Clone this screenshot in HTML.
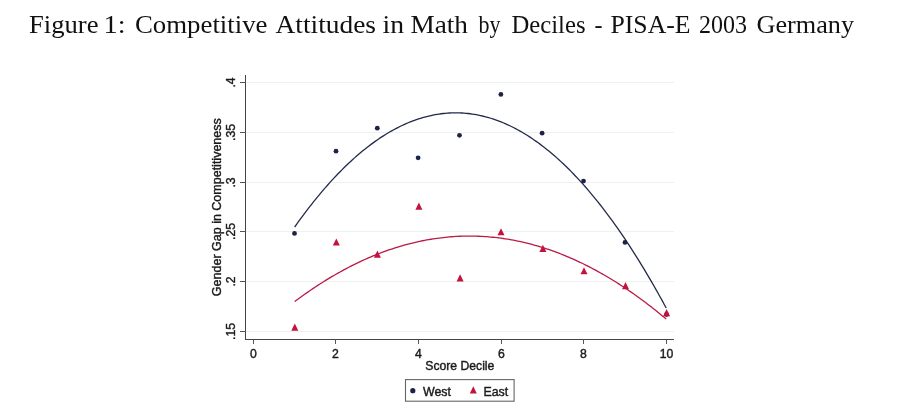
<!DOCTYPE html>
<html><head><meta charset="utf-8"><style>
html,body{margin:0;padding:0;background:#fff;}
body{width:905px;height:410px;position:relative;overflow:hidden;}
.cap{font-family:"Liberation Serif",serif;font-size:25px;fill:#111;}
svg{position:absolute;left:0;top:0;will-change:transform;}
.t{font-family:"Liberation Sans",sans-serif;font-size:12.2px;fill:#1a1a1a;stroke:#1a1a1a;stroke-width:0.4px;}
</style></head><body>
<svg width="905" height="410" viewBox="0 0 905 410">
<text x="29.00" y="32.6" class="cap" textLength="69.50" lengthAdjust="spacingAndGlyphs">Figure</text>
<text x="103.50" y="32.6" class="cap" textLength="22.00" lengthAdjust="spacingAndGlyphs">1:</text>
<text x="135.00" y="32.6" class="cap" textLength="132.50" lengthAdjust="spacingAndGlyphs">Competitive</text>
<text x="275.50" y="32.6" class="cap" textLength="100.50" lengthAdjust="spacingAndGlyphs">Attitudes</text>
<text x="382.50" y="32.6" class="cap" textLength="21.50" lengthAdjust="spacingAndGlyphs">in</text>
<text x="410.50" y="32.6" class="cap" textLength="57.50" lengthAdjust="spacingAndGlyphs">Math</text>
<text x="478.50" y="32.6" class="cap" textLength="22.00" lengthAdjust="spacingAndGlyphs">by</text>
<text x="511.50" y="32.6" class="cap" textLength="74.00" lengthAdjust="spacingAndGlyphs">Deciles</text>
<text x="594.50" y="32.6" class="cap" textLength="8.00" lengthAdjust="spacingAndGlyphs">-</text>
<text x="610.50" y="32.6" class="cap" textLength="80.00" lengthAdjust="spacingAndGlyphs">PISA-E</text>
<text x="699.00" y="32.6" class="cap" textLength="48.00" lengthAdjust="spacingAndGlyphs">2003</text>
<text x="756.50" y="32.6" class="cap" textLength="97.50" lengthAdjust="spacingAndGlyphs">Germany</text>
<line x1="246" y1="331.50" x2="674" y2="331.50" stroke="#edf1f1" stroke-width="1"/>
<line x1="246" y1="281.50" x2="674" y2="281.50" stroke="#edf1f1" stroke-width="1"/>
<line x1="246" y1="231.50" x2="674" y2="231.50" stroke="#edf1f1" stroke-width="1"/>
<line x1="246" y1="182.50" x2="674" y2="182.50" stroke="#edf1f1" stroke-width="1"/>
<line x1="246" y1="132.50" x2="674" y2="132.50" stroke="#edf1f1" stroke-width="1"/>
<line x1="246" y1="82.50" x2="674" y2="82.50" stroke="#edf1f1" stroke-width="1"/>

<line x1="245.5" y1="75" x2="245.5" y2="340" stroke="#444" stroke-width="1"/>
<line x1="245" y1="339.5" x2="674" y2="339.5" stroke="#444" stroke-width="1"/>
<line x1="240" y1="331.50" x2="245.5" y2="331.50" stroke="#555" stroke-width="1"/>
<text x="235" y="331.50" transform="rotate(-90 235 331.50)" text-anchor="middle" class="t">.15</text>
<line x1="240" y1="281.50" x2="245.5" y2="281.50" stroke="#555" stroke-width="1"/>
<text x="235" y="281.50" transform="rotate(-90 235 281.50)" text-anchor="middle" class="t">.2</text>
<line x1="240" y1="231.50" x2="245.5" y2="231.50" stroke="#555" stroke-width="1"/>
<text x="235" y="231.50" transform="rotate(-90 235 231.50)" text-anchor="middle" class="t">.25</text>
<line x1="240" y1="182.50" x2="245.5" y2="182.50" stroke="#555" stroke-width="1"/>
<text x="235" y="182.50" transform="rotate(-90 235 182.50)" text-anchor="middle" class="t">.3</text>
<line x1="240" y1="132.50" x2="245.5" y2="132.50" stroke="#555" stroke-width="1"/>
<text x="235" y="132.50" transform="rotate(-90 235 132.50)" text-anchor="middle" class="t">.35</text>
<line x1="240" y1="82.50" x2="245.5" y2="82.50" stroke="#555" stroke-width="1"/>
<text x="235" y="82.50" transform="rotate(-90 235 82.50)" text-anchor="middle" class="t">.4</text>
<line x1="253.50" y1="339.5" x2="253.50" y2="344" stroke="#555" stroke-width="1"/>
<text x="253.50" y="358.2" text-anchor="middle" class="t">0</text>
<line x1="335.50" y1="339.5" x2="335.50" y2="344" stroke="#555" stroke-width="1"/>
<text x="335.50" y="358.2" text-anchor="middle" class="t">2</text>
<line x1="418.50" y1="339.5" x2="418.50" y2="344" stroke="#555" stroke-width="1"/>
<text x="418.50" y="358.2" text-anchor="middle" class="t">4</text>
<line x1="501.50" y1="339.5" x2="501.50" y2="344" stroke="#555" stroke-width="1"/>
<text x="501.50" y="358.2" text-anchor="middle" class="t">6</text>
<line x1="583.50" y1="339.5" x2="583.50" y2="344" stroke="#555" stroke-width="1"/>
<text x="583.50" y="358.2" text-anchor="middle" class="t">8</text>
<line x1="666.50" y1="339.5" x2="666.50" y2="344" stroke="#555" stroke-width="1"/>
<text x="666.50" y="358.2" text-anchor="middle" class="t">10</text>

<path d="M294.68,227.00 L296.74,224.09 L298.81,221.22 L300.87,218.39 L302.94,215.59 L305.00,212.84 L307.06,210.12 L309.13,207.43 L311.19,204.79 L313.26,202.18 L315.32,199.61 L317.38,197.07 L319.45,194.58 L321.51,192.12 L323.58,189.70 L325.64,187.32 L327.70,184.97 L329.77,182.66 L331.83,180.39 L333.90,178.16 L335.96,175.97 L338.02,173.81 L340.09,171.69 L342.15,169.60 L344.22,167.56 L346.28,165.55 L348.34,163.58 L350.41,161.65 L352.47,159.75 L354.54,157.89 L356.60,156.07 L358.66,154.29 L360.73,152.55 L362.79,150.84 L364.86,149.17 L366.92,147.54 L368.98,145.94 L371.05,144.38 L373.11,142.86 L375.18,141.38 L377.24,139.94 L379.30,138.53 L381.37,137.16 L383.43,135.83 L385.50,134.53 L387.56,133.28 L389.62,132.06 L391.69,130.87 L393.75,129.73 L395.82,128.62 L397.88,127.55 L399.94,126.52 L402.01,125.52 L404.07,124.57 L406.14,123.65 L408.20,122.77 L410.26,121.92 L412.33,121.11 L414.39,120.34 L416.46,119.61 L418.52,118.92 L420.58,118.26 L422.65,117.64 L424.71,117.06 L426.78,116.52 L428.84,116.01 L430.90,115.54 L432.97,115.11 L435.03,114.71 L437.10,114.36 L439.16,114.04 L441.22,113.76 L443.29,113.51 L445.35,113.31 L447.42,113.14 L449.48,113.00 L451.54,112.91 L453.61,112.85 L455.67,112.83 L457.74,112.85 L459.80,112.91 L461.86,113.00 L463.93,113.13 L465.99,113.30 L468.06,113.51 L470.12,113.75 L472.18,114.03 L474.25,114.35 L476.31,114.71 L478.38,115.10 L480.44,115.53 L482.50,116.00 L484.57,116.51 L486.63,117.05 L488.70,117.63 L490.76,118.25 L492.82,118.91 L494.89,119.60 L496.95,120.33 L499.02,121.10 L501.08,121.91 L503.14,122.75 L505.21,123.64 L507.27,124.55 L509.34,125.51 L511.40,126.51 L513.46,127.54 L515.53,128.61 L517.59,129.71 L519.66,130.86 L521.72,132.04 L523.78,133.26 L525.85,134.52 L527.91,135.81 L529.98,137.14 L532.04,138.51 L534.10,139.92 L536.17,141.36 L538.23,142.84 L540.30,144.36 L542.36,145.92 L544.42,147.52 L546.49,149.15 L548.55,150.82 L550.62,152.52 L552.68,154.27 L554.74,156.05 L556.81,157.87 L558.87,159.73 L560.94,161.62 L563.00,163.55 L565.06,165.52 L567.13,167.53 L569.19,169.58 L571.26,171.66 L573.32,173.78 L575.38,175.94 L577.45,178.13 L579.51,180.36 L581.58,182.63 L583.64,184.94 L585.70,187.29 L587.77,189.67 L589.83,192.09 L591.90,194.55 L593.96,197.04 L596.02,199.57 L598.09,202.14 L600.15,204.75 L602.22,207.40 L604.28,210.08 L606.34,212.80 L608.41,215.56 L610.47,218.35 L612.54,221.19 L614.60,224.06 L616.66,226.96 L618.73,229.91 L620.79,232.89 L622.86,235.91 L624.92,238.97 L626.98,242.07 L629.05,245.20 L631.11,248.37 L633.18,251.58 L635.24,254.82 L637.30,258.11 L639.37,261.43 L641.43,264.79 L643.50,268.18 L645.56,271.61 L647.62,275.08 L649.69,278.59 L651.75,282.14 L653.82,285.72 L655.88,289.34 L657.94,293.00 L660.01,296.70 L662.07,300.43 L664.14,304.20 L666.20,308.01" fill="none" stroke="#232a4a" stroke-width="1.3"/>
<path d="M294.68,301.56 L296.74,300.03 L298.81,298.51 L300.87,297.00 L302.94,295.52 L305.00,294.06 L307.06,292.61 L309.13,291.18 L311.19,289.77 L313.26,288.38 L315.32,287.00 L317.38,285.65 L319.45,284.31 L321.51,282.99 L323.58,281.69 L325.64,280.41 L327.70,279.15 L329.77,277.90 L331.83,276.67 L333.90,275.46 L335.96,274.27 L338.02,273.10 L340.09,271.95 L342.15,270.81 L344.22,269.69 L346.28,268.59 L348.34,267.51 L350.41,266.45 L352.47,265.40 L354.54,264.38 L356.60,263.37 L358.66,262.38 L360.73,261.41 L362.79,260.46 L364.86,259.52 L366.92,258.60 L368.98,257.70 L371.05,256.82 L373.11,255.96 L375.18,255.12 L377.24,254.29 L379.30,253.49 L381.37,252.70 L383.43,251.93 L385.50,251.17 L387.56,250.44 L389.62,249.72 L391.69,249.03 L393.75,248.35 L395.82,247.69 L397.88,247.04 L399.94,246.42 L402.01,245.81 L404.07,245.23 L406.14,244.66 L408.20,244.11 L410.26,243.57 L412.33,243.06 L414.39,242.56 L416.46,242.08 L418.52,241.62 L420.58,241.18 L422.65,240.76 L424.71,240.35 L426.78,239.97 L428.84,239.60 L430.90,239.25 L432.97,238.91 L435.03,238.60 L437.10,238.31 L439.16,238.03 L441.22,237.77 L443.29,237.53 L445.35,237.31 L447.42,237.10 L449.48,236.92 L451.54,236.75 L453.61,236.60 L455.67,236.47 L457.74,236.36 L459.80,236.26 L461.86,236.18 L463.93,236.13 L465.99,236.09 L468.06,236.07 L470.12,236.06 L472.18,236.08 L474.25,236.11 L476.31,236.16 L478.38,236.23 L480.44,236.32 L482.50,236.43 L484.57,236.55 L486.63,236.70 L488.70,236.86 L490.76,237.04 L492.82,237.23 L494.89,237.45 L496.95,237.68 L499.02,237.94 L501.08,238.21 L503.14,238.50 L505.21,238.80 L507.27,239.13 L509.34,239.47 L511.40,239.84 L513.46,240.22 L515.53,240.62 L517.59,241.03 L519.66,241.47 L521.72,241.92 L523.78,242.39 L525.85,242.88 L527.91,243.39 L529.98,243.92 L532.04,244.47 L534.10,245.03 L536.17,245.61 L538.23,246.21 L540.30,246.83 L542.36,247.46 L544.42,248.12 L546.49,248.79 L548.55,249.48 L550.62,250.19 L552.68,250.92 L554.74,251.67 L556.81,252.43 L558.87,253.21 L560.94,254.01 L563.00,254.83 L565.06,255.67 L567.13,256.53 L569.19,257.40 L571.26,258.29 L573.32,259.20 L575.38,260.13 L577.45,261.08 L579.51,262.04 L581.58,263.03 L583.64,264.03 L585.70,265.05 L587.77,266.09 L589.83,267.15 L591.90,268.22 L593.96,269.31 L596.02,270.43 L598.09,271.56 L600.15,272.70 L602.22,273.87 L604.28,275.05 L606.34,276.26 L608.41,277.48 L610.47,278.72 L612.54,279.98 L614.60,281.25 L616.66,282.55 L618.73,283.86 L620.79,285.19 L622.86,286.54 L624.92,287.91 L626.98,289.29 L629.05,290.69 L631.11,292.12 L633.18,293.56 L635.24,295.02 L637.30,296.49 L639.37,297.99 L641.43,299.50 L643.50,301.03 L645.56,302.58 L647.62,304.15 L649.69,305.74 L651.75,307.34 L653.82,308.97 L655.88,310.61 L657.94,312.27 L660.01,313.95 L662.07,315.64 L664.14,317.36 L666.20,319.09" fill="none" stroke="#bb1a45" stroke-width="1.3"/>
<circle cx="294.5" cy="233.4" r="2.4" fill="#1d2346"/>
<circle cx="336" cy="151.2" r="2.4" fill="#1d2346"/>
<circle cx="377.3" cy="128.2" r="2.4" fill="#1d2346"/>
<circle cx="418.1" cy="157.8" r="2.4" fill="#1d2346"/>
<circle cx="459.5" cy="135.3" r="2.4" fill="#1d2346"/>
<circle cx="500.9" cy="94.4" r="2.4" fill="#1d2346"/>
<circle cx="542.1" cy="133.2" r="2.4" fill="#1d2346"/>
<circle cx="583.5" cy="181.1" r="2.4" fill="#1d2346"/>
<circle cx="625" cy="242.4" r="2.4" fill="#1d2346"/>
<circle cx="666.5" cy="314.5" r="2.4" fill="#1d2346"/>
<path d="M291.30,330.70 L294.80,323.60 L298.30,330.70 Z" fill="#c4123e"/>
<path d="M332.80,245.60 L336.30,238.50 L339.80,245.60 Z" fill="#c4123e"/>
<path d="M373.90,257.70 L377.40,250.60 L380.90,257.70 Z" fill="#c4123e"/>
<path d="M415.40,209.70 L418.90,202.60 L422.40,209.70 Z" fill="#c4123e"/>
<path d="M456.60,281.40 L460.10,274.30 L463.60,281.40 Z" fill="#c4123e"/>
<path d="M497.50,235.30 L501.00,228.20 L504.50,235.30 Z" fill="#c4123e"/>
<path d="M539.40,251.90 L542.90,244.80 L546.40,251.90 Z" fill="#c4123e"/>
<path d="M580.50,274.30 L584.00,267.20 L587.50,274.30 Z" fill="#c4123e"/>
<path d="M622.00,289.20 L625.50,282.10 L629.00,289.20 Z" fill="#c4123e"/>
<path d="M663.10,316.20 L666.60,309.10 L670.10,316.20 Z" fill="#c4123e"/>

<text x="221" y="207.2" transform="rotate(-90 221 207.2)" text-anchor="middle" class="t" style="font-size:12.5px">Gender Gap in Competitiveness</text>
<text x="459.8" y="369.8" text-anchor="middle" class="t">Score Decile</text>
<rect x="405.5" y="379.6" width="108.6" height="21.6" fill="none" stroke="#666" stroke-width="1.1"/>
<circle cx="412.8" cy="390.7" r="2.6" fill="#1d2346"/>
<text x="423" y="395.8" class="t" style="font-size:12.4px">West</text>
<path d="M469.8,393.6 L473.3,386.2 L476.8,393.6 Z" fill="#c4123e"/>
<text x="483.4" y="395.8" class="t" style="font-size:12.4px">East</text>
</svg>
</body></html>
